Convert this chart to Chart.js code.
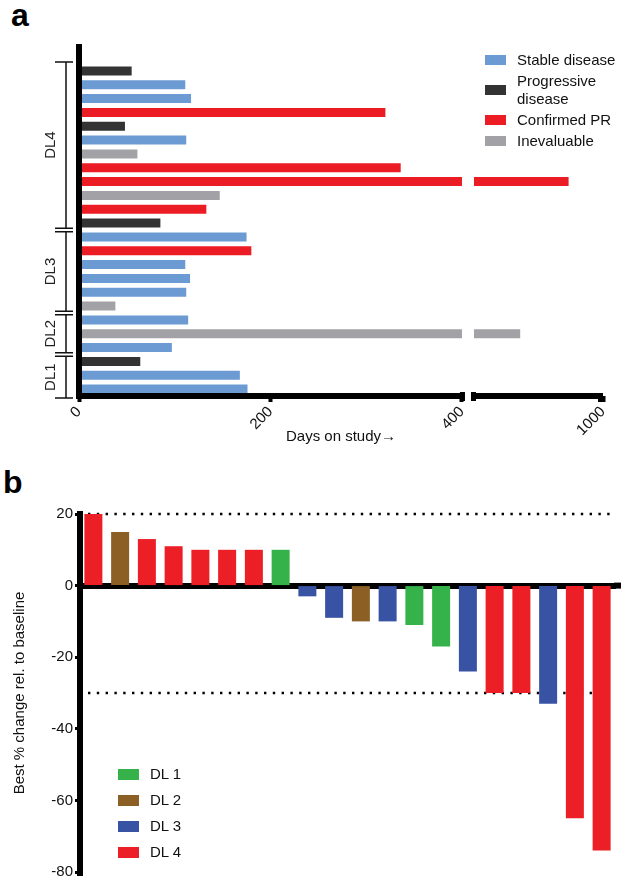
<!DOCTYPE html>
<html>
<head>
<meta charset="utf-8">
<script src="https://cdn.jsdelivr.net/npm/chart.js@4/dist/chart.umd.min.js"></script>
<style>
  body { margin: 0; background: #fff; }
  #fig { position: relative; width: 629px; height: 886px; background: #fff;
         font-family: "Liberation Sans", Arial, Helvetica, sans-serif; color: #111; }
  canvas { position: absolute; left: 0; }
  .tag { position: absolute; font-weight: bold; font-size: 32px; line-height: 1; color: #000; }
  .legend { position: absolute; font-size: 15px; line-height: 18px; }
  .legend .item { display: flex; align-items: center; }
  .legend .swatch { flex: none; width: 21px; }
  .legend .text { max-width: 104px; margin-left: 11px; }
</style>
</head>
<body>
<div id="fig">
  <div class="tag" style="left:11px;top:-1px">a</div>
  <canvas id="chartA" width="629" height="460" style="top:0"></canvas>
  <div id="legendA" class="legend" style="left:485px;top:51px"></div>

  <div class="tag" style="left:3px;top:466px">b</div>
  <canvas id="chartB" width="629" height="426" style="top:460px"></canvas>
  <div id="legendB" class="legend" style="left:118px;top:765px"></div>
</div>

<script>
// ---- panel a: days on study, one row per patient (top to bottom) ----
const daysOnStudy = [55, 111, 117, 320, 48, 112, 61, 336, 840, 147, 133, 85,
                     175, 180, 111, 116, 112, 38,
                     114, 615, 97,
                     64, 168, 176]
const rowOutcome = ['PD', 'SD', 'SD', 'PR', 'PD', 'SD', 'NE', 'PR', 'PR', 'NE', 'PR', 'PD',
                    'SD', 'PR', 'SD', 'SD', 'SD', 'NE',
                    'SD', 'NE', 'SD',
                    'PD', 'SD', 'SD']
const outcomeKeys = ['SD', 'PD', 'PR', 'NE']
const outcomeLabels = ['Stable disease', 'Progressive disease', 'Confirmed PR', 'Inevaluable']
const outcomeColors = ['#6b9bd2', '#333333', '#ec1c24', '#a2a2a6']
const doseGroupLabels = ['DL4', 'DL3', 'DL2', 'DL1']
const doseGroupSizes = [12, 6, 3, 3]
const dayTicks = [0, 200, 400, 1000]

// axis break: 0-400 on the first piece, 400-1000 squeezed into the second
const BREAK_AT = 400
const BREAK_SHARE = 0.748
const BREAK_GAP_PX = 12

// ---- panel b: best % change, waterfall ----
const bestChange = [20, 15, 13, 11, 10, 10, 10, 10, -3, -9, -10, -10, -11, -17, -24, -30, -30, -33, -65, -74]
const doseLevel = [4, 2, 4, 4, 4, 4, 4, 1, 3, 3, 2, 3, 1, 1, 3, 4, 4, 3, 4, 4]
const doseLabels = ['DL 1', 'DL 2', 'DL 3', 'DL 4']
const doseColors = ['#35b34a', '#8c5f24', '#3953a4', '#ec1f26']
const changeTicks = [-80, -60, -40, -20, 0, 20]
const refLines = [20, -30]

const FONT = '"Liberation Sans", Arial, Helvetica, sans-serif'
Chart.defaults.font.family = FONT
Chart.defaults.font.size = 15
Chart.defaults.color = '#111'

class BrokenLinearScale extends Chart.LinearScale {
  _pieces() {
    const usable = this.width - BREAK_GAP_PX
    const first = usable * BREAK_SHARE
    return { first, second: usable - first }
  }
  getPixelForValue(value) {
    const { first, second } = this._pieces()
    if (value <= BREAK_AT) {
      return this.left + (value - this.min) / (BREAK_AT - this.min) * first
    }
    return this.left + first + BREAK_GAP_PX + (value - BREAK_AT) / (this.max - BREAK_AT) * second
  }
  getValueForPixel(pixel) {
    const { first, second } = this._pieces()
    const d = pixel - this.left
    if (d <= first) return this.min + d / first * (BREAK_AT - this.min)
    return BREAK_AT + (d - first - BREAK_GAP_PX) / second * (this.max - BREAK_AT)
  }
}
BrokenLinearScale.id = 'brokenLinear'
BrokenLinearScale.defaults = {}
Chart.register(BrokenLinearScale)

// gap in the bars, hand-drawn axes with the break, DL brackets
const panelAPlugin = {
  id: 'panelA',
  afterDatasetsDraw(chart) {
    const { ctx, chartArea: area, scales: { x, y } } = chart
    const gapL = x.getPixelForValue(BREAK_AT)
    const gapR = gapL + BREAK_GAP_PX
    ctx.save()
    ctx.fillStyle = '#fff'
    ctx.fillRect(gapL, area.top - 2, gapR - gapL, area.bottom - area.top - 2)

    // axes
    ctx.fillStyle = '#000'
    ctx.fillRect(area.left - 3, area.top - 20, 6, area.bottom - area.top + 23)
    ctx.fillRect(area.left - 3, area.bottom - 3, gapL - area.left + 3, 6)
    ctx.fillRect(gapR - 2, area.bottom - 3, area.right - gapR + 2, 6)
    ctx.fillRect(gapL - 2, area.bottom - 4, 5, 9)
    ctx.fillRect(gapR - 3, area.bottom - 4, 5, 9)
    ctx.fillRect(area.right - 5, area.bottom - 3, 5, 9)

    // dose-level brackets
    const slot = y.getPixelForValue(1) - y.getPixelForValue(0)
    const bx = 66
    let row = 0
    ctx.strokeStyle = '#111'
    ctx.lineWidth = 1.5
    doseGroupSizes.forEach((n, g) => {
      const first = row === 0
      const last = g === doseGroupSizes.length - 1
      const top = y.getPixelForValue(row) - slot / 2 + (first ? -2 : 1.8)
      const bottom = y.getPixelForValue(row + n - 1) + slot / 2 + (last ? 2 : -1.8)
      ctx.beginPath()
      ctx.moveTo(bx, top); ctx.lineTo(bx, bottom)
      ctx.moveTo(bx - 11, top); ctx.lineTo(bx + 7, top)
      ctx.moveTo(bx - 11, bottom); ctx.lineTo(bx + 7, bottom)
      ctx.stroke()
      ctx.save()
      ctx.translate(51, (top + bottom) / 2)
      ctx.rotate(-Math.PI / 2)
      ctx.fillStyle = '#222'
      ctx.font = '15px ' + FONT
      ctx.textAlign = 'center'
      ctx.textBaseline = 'middle'
      ctx.fillText(doseGroupLabels[g], 0, 0)
      ctx.restore()
      row += n
    })
    ctx.restore()
  }
}

new Chart(document.getElementById('chartA'), {
  type: 'bar',
  data: {
    labels: daysOnStudy.map((_, i) => 'Patient ' + (i + 1)),
    datasets: [{
      data: daysOnStudy,
      backgroundColor: rowOutcome.map(o => outcomeColors[outcomeKeys.indexOf(o)]),
      barPercentage: 0.65,
      categoryPercentage: 1,
    }],
  },
  options: {
    indexAxis: 'y',
    responsive: false,
    animation: false,
    layout: { padding: { top: 64, right: 26, bottom: 0, left: 0 } },
    plugins: { legend: { display: false }, tooltip: { enabled: false } },
    scales: {
      x: {
        type: 'brokenLinear',
        min: 0,
        max: 1000,
        afterBuildTicks: s => { s.ticks = dayTicks.map(v => ({ value: v })) },
        afterFit: s => { s.height = 64 },
        ticks: { minRotation: 45, maxRotation: 45, padding: 1, color: '#111', callback: v => String(v) },
        grid: { drawOnChartArea: false, tickLength: 6, tickWidth: 4, color: '#000' },
        border: { display: false },
        title: { display: true, text: 'Days on study\u2192', color: '#111', padding: { top: 0, bottom: 14 } },
      },
      y: {
        type: 'category',
        afterFit: s => { s.width = 79 },
        ticks: { display: false },
        grid: { display: false },
        border: { display: false },
      },
    },
  },
  plugins: [panelAPlugin],
})

// dotted threshold lines behind the bars, zero line and y axis run a little past the plot
const refLinePlugin = {
  id: 'refLines',
  beforeDatasetsDraw(chart) {
    const { ctx, chartArea: area, scales: { y } } = chart
    ctx.save()
    ctx.strokeStyle = '#000'
    ctx.lineWidth = 2.4
    ctx.setLineDash([2.4, 6.4])
    refLines.forEach(v => {
      const py = y.getPixelForValue(v)
      ctx.beginPath()
      ctx.moveTo(area.left + 8, py)
      ctx.lineTo(area.right - 2, py)
      ctx.stroke()
    })
    ctx.restore()
  },
  afterDraw(chart) {
    const { ctx, chartArea: area, scales: { y } } = chart
    const y0 = y.getPixelForValue(0)
    ctx.save()
    ctx.fillStyle = '#000'
    ctx.fillRect(area.right - 1, y0 - 3, 7, 6)
    ctx.fillRect(area.left - 3, area.top - 3, 6, 4)
    ctx.fillRect(area.left - 3, area.bottom - 1, 6, 5)
    ctx.restore()
  }
}

new Chart(document.getElementById('chartB'), {
  type: 'bar',
  data: {
    labels: bestChange.map((_, i) => 'Patient ' + (i + 1)),
    datasets: [{
      data: bestChange,
      backgroundColor: doseLevel.map(d => doseColors[d - 1]),
      barPercentage: 0.673,
      categoryPercentage: 1,
    }],
  },
  options: {
    responsive: false,
    animation: false,
    layout: { padding: { top: 54, right: 14, bottom: 14, left: 0 } },
    plugins: { legend: { display: false }, tooltip: { enabled: false } },
    scales: {
      x: {
        type: 'category',
        position: { y: 0 },
        z: 1,
        ticks: { display: false },
        grid: { display: false },
        border: { display: true, width: 6, color: '#000' },
      },
      y: {
        min: -80,
        max: 20,
        afterBuildTicks: s => { s.ticks = changeTicks.map(v => ({ value: v })) },
        afterFit: s => { s.width = 80 },
        ticks: { padding: 2, color: '#111' },
        grid: { drawOnChartArea: false, tickLength: 5, tickWidth: 3, color: '#000' },
        border: { width: 6, color: '#000' },
        title: { display: true, text: 'Best % change rel. to baseline', color: '#111', padding: { top: 11, bottom: 0 } },
      },
    },
  },
  plugins: [refLinePlugin],
})

// html legends
function buildLegend(el, labels, colors, swatchH, gap) {
  labels.forEach((label, i) => {
    const item = document.createElement('div')
    item.className = 'item'
    item.style.marginBottom = gap + 'px'
    const sw = document.createElement('span')
    sw.className = 'swatch'
    sw.style.height = swatchH + 'px'
    sw.style.background = colors[i]
    const tx = document.createElement('span')
    tx.className = 'text'
    tx.textContent = label
    item.appendChild(sw)
    item.appendChild(tx)
    el.appendChild(item)
  })
}
buildLegend(document.getElementById('legendA'), outcomeLabels, outcomeColors, 10, 3)
buildLegend(document.getElementById('legendB'), doseLabels, doseColors, 11, 8)
</script>
</body>
</html>
